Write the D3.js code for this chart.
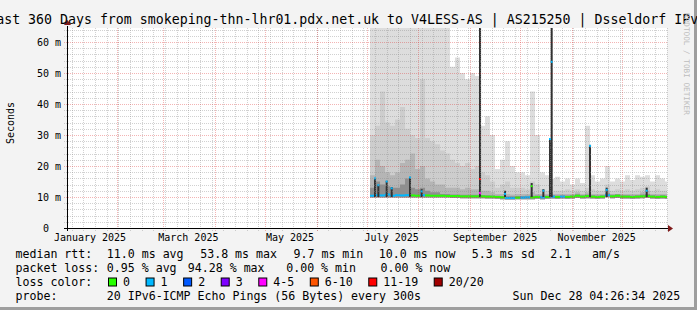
<!DOCTYPE html>
<html>
<head>
<meta charset="utf-8">
<script src="https://cdn.jsdelivr.net/npm/d3@7"></script>
<style>
  body { margin: 0; background: #f3f3f3; }
  svg text { font-family: "DejaVu Sans Mono", monospace; white-space: pre; }
</style>
</head>
<body>
<svg id="chart" width="697" height="310"></svg>
<script>
// ---- data (3-day slots from 2025-07-03, values in ms) ----
const slotStart = "2025-07-03";
const slotDays = 3;

// outer smoke band (slowest ping), clipped at the top for the first weeks
const pingMax = [66, 66, 66, 66, 66, 66, 66, 66, 66, 66, 66, 66, 66, 66, 66, 66,
  52, 55, 50, 48, 50, 49, 33, 36, 30, 19, 22, 28, 20, 18, 18, 17, 44, 30, 18, 17,
  16, 16.5, 15, 16, 14, 16, 14.5, 33, 17, 15, 16, 20, 15, 16, 15, 17, 15.5, 17, 16.5, 17, 15, 17, 16, 15];
const pingUpper = [30, 33, 44, 34, 33, 35, 39, 32, 30, 29, 48, 29, 28, 27, 25, 24,
  22, 21, 20, 21, 19, 20, 18, 17, 15, 13, 14, 15, 13, 13, 13, 12.5, 15, 14, 12.5, 12,
  12, 12, 12, 12.5, 12, 12.5, 12, 13, 12.5, 12, 12, 14, 12, 12.5, 12, 12.5, 12, 12.5, 13, 13.5, 12, 12.5, 12, 12];
const pingMid = [17, 22, 20, 18, 17, 18, 21, 22, 24, 19, 20, 16, 15, 14, 14, 13,
  13, 13, 12.5, 13, 12.5, 12.5, 12, 12, 11.5, 11, 11, 11, 10.8, 11, 11, 11, 11.5, 11, 11, 11,
  11, 11, 11, 11, 11, 11.5, 11, 11.5, 11, 11, 11, 12, 11, 11, 11, 11, 11, 11, 11.5, 12, 11, 11, 11, 11];
const pingInner = [13, 15, 14, 13.5, 13, 13, 14, 16, 13, 12.5, 13, 12, 11.5, 11.5, 11, 11,
  10.8, 10.8, 10.7, 10.7, 10.7, 10.7, 10.6, 10.6, 10.5, 10.4, 10.3, 10.2, 10.2, 10.3, 10.3, 10.4, 10.4, 10.5, 10.4, 10.5,
  10.6, 10.5, 10.6, 10.5, 10.6, 10.9, 10.6, 10.8, 10.6, 10.5, 10.6, 11.2, 10.7, 10.9, 10.6, 10.6, 10.5, 10.6, 10.8, 11, 10.6, 10.5, 10.6, 10.5];
const pingMin = [9.8, 9.8, 9.8, 9.8, 9.8, 9.8, 9.8, 9.8, 9.8, 9.8, 9.8, 9.8, 9.8, 9.8, 9.8, 9.8,
  9.7, 9.7, 9.6, 9.6, 9.6, 9.6, 9.6, 9.5, 9.5, 9.4, 9.3, 9.2, 9.2, 9.3, 9.3, 9.3, 9.3, 9.4, 9.3, 9.4,
  9.5, 9.4, 9.5, 9.4, 9.5, 9.7, 9.5, 9.6, 9.5, 9.4, 9.5, 9.9, 9.6, 9.7, 9.5, 9.5, 9.4, 9.5, 9.6, 9.7, 9.5, 9.4, 9.5, 9.4];
const medianRtt = [10.4, 10.6, 10.5, 10.8, 10.4, 10.6, 10.5, 10.6, 10.5, 10.4, 10.6, 10.5, 10.4, 10.4, 10.4, 10.3,
  10.3, 10.3, 10.2, 10.2, 10.2, 10.2, 10.2, 10.1, 10.1, 10.0, 9.9, 9.7, 9.7, 9.8, 9.8, 9.9, 9.9, 10.0, 9.9, 10.0,
  10.1, 10.0, 10.1, 10.0, 10.1, 10.4, 10.1, 10.3, 10.1, 10.0, 10.1, 10.6, 10.2, 10.4, 10.1, 10.1, 10.0, 10.1, 10.2, 10.3, 10.1, 10.0, 10.1, 10.0];
const lossCount = [1, 1, 1, 1, 1, 1, 1, 1, 0, 0, 1, 0, 0, 0, 0, 0,
  0, 0, 0, 0, 0, 0, 0, 0, 0, 0, 0, 1, 1, 0, 1, 1, 0, 0, 1, 0,
  1, 0, 1, 0, 0, 0, 0, 0, 0, 0, 0, 1, 0, 0, 0, 0, 0, 0, 0, 0, 0, 0, 0, 0];

// short bursts narrower than a slot
const spikeDates = ["2025-07-06", "2025-07-08", "2025-07-13", "2025-07-16", "2025-07-27", "2025-08-03",
  "2025-09-07", "2025-09-07", "2025-09-22", "2025-10-08", "2025-10-15", "2025-10-19", "2025-10-20",
  "2025-11-12", "2025-11-22", "2025-12-16"];
const spikeTop = [16.1, 13.9, 15.2, 13.2, 16.5, 12.5, 70, 70, 12, 14.5, 12.5, 28.7, 70, 26.8, 13, 13];
const spikeMedian = [16.0, 13.8, 15.0, 12.8, 16.3, 11.8, 11.3, 15.8, 11.0, 13.5, 12.0, 28.7, 53.6, 26.5, 12.3, 12.0];
const spikeLoss = [1, 1, 1, 1, 1, 1, 5, 15, 1, 0, 1, 1, 1, 1, 1, 1];

const yTicks = [0, 10, 20, 30, 40, 50, 60];
const yTickLabels = ["0  ", "10 m", "20 m", "30 m", "40 m", "50 m", "60 m"];
const xLabelMonths = ["2025-01-01", "2025-03-01", "2025-05-01", "2025-07-01", "2025-09-01", "2025-11-01"];

const lossLabels = ["0", "1", "2", "3", "4-5", "6-10", "11-19", "20/20"];
const lossUpper = [0, 1, 2, 3, 5, 10, 19, 20];
const lossColors = ["#26ff00", "#00b8ff", "#0059ff", "#7e00ff", "#ff00ff", "#ff5500", "#ff0000", "#a10000"];

const medianStats = ["11.0 ms avg", "53.8 ms max", "9.7 ms min", "10.0 ms now", "5.3 ms sd", "2.1   am/s"];
const lossStats = ["0.95 % avg", "94.28 % max", "0.00 % min", "0.00 % now"];

const title = "Last 360 Days from smokeping-thn-lhr01.pdx.net.uk to V4LESS-AS | AS215250 | Dsseldorf IPv6";
const probeText = "20 IPv6-ICMP Echo Pings (56 Bytes) every 300s";
const stampText = "Sun Dec 28 04:26:34 2025";

// ---- drawing ----
const svg = d3.select('#chart');
const W = 697, H = 310;
const pLeft = 67, pRight = 667, pTop = 28, pBottom = 228;

const parse = d3.utcParse('%Y-%m-%d');
const tStart = new Date(Date.UTC(2025, 0, 2, 4, 26, 34));
const tEnd = new Date(Date.UTC(2025, 11, 28, 4, 26, 34));

const x = d3.scaleUtc().domain([tStart, tEnd]).range([pLeft, pRight]);
const y = d3.scaleLinear().domain([0, 64.5]).range([pBottom, pTop]);
const px = v => Math.round(v) + 0.5;
const lossColor = l => lossColors[lossUpper.findIndex(u => l <= u)];

// frame
svg.append('rect').attr('width', W).attr('height', H).attr('fill', '#f3f3f3');
svg.append('rect').attr('x', W - 3).attr('width', 3).attr('height', H).attr('fill', '#9e9e9e');
svg.append('rect').attr('y', H - 3).attr('width', W).attr('height', 3).attr('fill', '#9e9e9e');
svg.append('rect').attr('x', pLeft).attr('y', pTop).attr('width', pRight - pLeft).attr('height', pBottom - pTop)
  .attr('fill', '#ffffff');

svg.append('clipPath').attr('id', 'plot')
  .append('rect').attr('x', pLeft).attr('y', pTop).attr('width', pRight - pLeft).attr('height', pBottom - pTop);

// slot rows
const t0 = parse(slotStart);
const rows = medianRtt.map((_, i) => ({ t: d3.utcDay.offset(t0, i * slotDays), i }));
const rowsStep = rows.concat([{ t: tEnd, i: rows.length - 1 }]);

const plot = svg.append('g').attr('clip-path', 'url(#plot)');

// smoke, outer band first
const bands = [pingMax, pingUpper, pingMid, pingInner];
const bandColors = ['#dddddd', '#cdcdcd', '#b5b5b5', '#8f8f8f'];
bands.forEach((band, k) => {
  const area = d3.area()
    .x(d => x(d.t))
    .y0(d => y(pingMin[d.i]))
    .y1(d => y(band[d.i]))
    .curve(d3.curveStepAfter);
  plot.append('path').datum(rowsStep).attr('d', area).attr('fill', bandColors[k]);
});

// grid
const grid = svg.append('g').attr('fill', 'none').attr('stroke-dasharray', '1,1');
const minorY = d3.range(2, 65, 2).filter(v => v % 10 !== 0);
grid.selectAll('.hmin').data(minorY).join('line')
  .attr('x1', pLeft - 3).attr('x2', pRight)
  .attr('y1', d => px(y(d))).attr('y2', d => px(y(d)))
  .attr('stroke', 'rgba(140,140,140,0.4)');
grid.selectAll('.vmin').data(d3.utcSunday.range(tStart, tEnd)).join('line')
  .attr('x1', d => px(x(d))).attr('x2', d => px(x(d)))
  .attr('y1', pTop).attr('y2', pBottom + 3)
  .attr('stroke', 'rgba(140,140,140,0.4)');
grid.selectAll('.hmaj').data(yTicks.slice(1)).join('line')
  .attr('x1', pLeft - 3).attr('x2', pRight)
  .attr('y1', d => px(y(d))).attr('y2', d => px(y(d)))
  .attr('stroke', 'rgba(220,40,40,0.35)');
grid.selectAll('.vmaj').data(d3.utcMonth.range(tStart, tEnd)).join('line')
  .attr('x1', d => px(x(d))).attr('x2', d => px(x(d)))
  .attr('y1', pTop).attr('y2', pBottom + 3)
  .attr('stroke', 'rgba(220,40,40,0.35)');

// median band coloured by loss
plot.selectAll('.med').data(rows).join('rect')
  .attr('x', d => x(d.t))
  .attr('width', d => x(rowsStep[d.i + 1].t) - x(d.t))
  .attr('y', d => y(medianRtt[d.i]) - 1)
  .attr('height', 2)
  .attr('fill', d => lossColor(lossCount[d.i]));

// bursts
const spikes = spikeDates.map((s, i) => ({ t: parse(s), hi: spikeTop[i], med: spikeMedian[i], loss: spikeLoss[i] }));
plot.selectAll('.spk').data(spikes).join('rect')
  .attr('x', d => x(d.t) - 1).attr('width', 2)
  .attr('y', d => y(d.hi)).attr('height', d => y(10) - y(d.hi))
  .attr('fill', '#323232');
plot.selectAll('.spm').data(spikes).join('rect')
  .attr('x', d => x(d.t) - 1).attr('width', 2)
  .attr('y', d => y(d.med) - 1).attr('height', 2)
  .attr('fill', d => lossColor(d.loss));

// axes
svg.append('line').attr('x1', pLeft - 3).attr('x2', pRight + 2).attr('y1', pBottom + 0.5).attr('y2', pBottom + 0.5)
  .attr('stroke', '#000');
svg.append('path').attr('d', `M${pRight + 1},${pBottom - 3}L${pRight + 6},${pBottom + 0.5}L${pRight + 1},${pBottom + 4}Z`)
  .attr('fill', '#7f1a1a');
svg.append('line').attr('x1', pLeft + 0.5).attr('x2', pLeft + 0.5).attr('y1', pBottom + 3).attr('y2', pTop - 2)
  .attr('stroke', '#000');
svg.append('path').attr('d', `M${pLeft - 3},${pTop - 3}L${pLeft + 0.5},${pTop - 8}L${pLeft + 4},${pTop - 3}Z`)
  .attr('fill', '#7f1a1a');

svg.selectAll('.ylab').data(yTicks).join('text')
  .attr('x', 61).attr('y', d => y(d) + 4)
  .attr('text-anchor', 'end').attr('font-size', 10).attr('fill', '#000')
  .text((d, i) => yTickLabels[i]);

svg.selectAll('.xlab').data(xLabelMonths).join('text')
  .attr('x', d => x(d3.utcDay.offset(parse(d), 15))).attr('y', 241)
  .attr('text-anchor', 'middle').attr('font-size', 10).attr('fill', '#000')
  .text(d => d3.utcFormat('%B %Y')(parse(d)));

svg.append('text').attr('transform', 'translate(14,123) rotate(-90)')
  .attr('text-anchor', 'middle').attr('font-size', 10).text('Seconds');

svg.append('text').attr('x', -11.8).attr('y', 24).attr('font-size', 13.25).text(title);

svg.append('text').attr('transform', 'translate(683.5,13) rotate(90)')
  .attr('font-size', 7.7).attr('fill', '#bdbdbd').text('RRDTOOL / TOBI OETIKER');

// legend
const lg = svg.append('g').attr('font-size', 11.6).attr('fill', '#000');
const rowY = [257.5, 271.5, 285.5, 299.5];
const statX = [106.8, 200.2, 293.5, 378.8, 471.8, 550.2];

lg.append('text').attr('x', 15.5).attr('y', rowY[0]).text('median rtt:');
lg.selectAll('.ms').data(medianStats).join('text')
  .attr('x', (d, i) => statX[i]).attr('y', rowY[0]).text(d => d);

const lossX = [106.8, 187.8, 286.2, 380.5];
lg.append('text').attr('x', 15.5).attr('y', rowY[1]).text('packet loss:');
lg.selectAll('.ls').data(lossStats).join('text')
  .attr('x', (d, i) => lossX[i]).attr('y', rowY[1]).text(d => d);

lg.append('text').attr('x', 15.5).attr('y', rowY[2]).text('loss color:');
const cw = 6.97;
let bx = 108;
lossLabels.forEach((lab, i) => {
  lg.append('rect').attr('x', bx + 0.5).attr('y', rowY[2] - 7.5).attr('width', 8).attr('height', 8)
    .attr('fill', lossColors[i]).attr('stroke', '#000');
  lg.append('text').attr('x', bx + 15).attr('y', rowY[2]).text(lab);
  bx += 15 + lab.length * cw + 15.6;
});

lg.append('text').attr('x', 15.5).attr('y', rowY[3]).text('probe:');
lg.append('text').attr('x', 106.8).attr('y', rowY[3]).text(probeText);
lg.append('text').attr('x', 512.6).attr('y', rowY[3]).text(stampText);
</script>
</body>
</html>
